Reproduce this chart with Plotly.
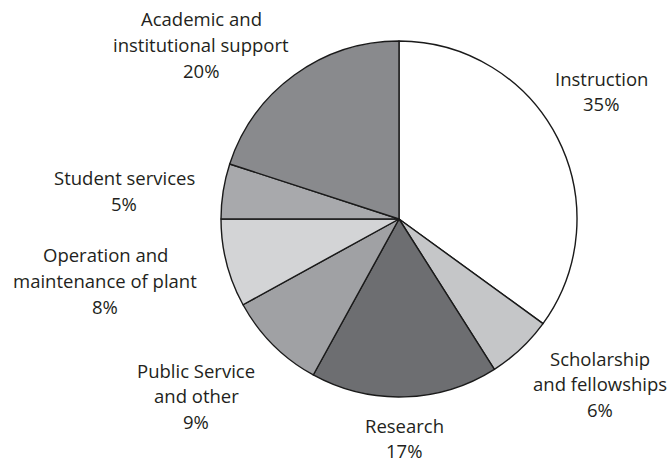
import plotly.graph_objects as go

# Spending categories, clockwise from 12 o'clock
categories = [
    "Instruction",
    "Scholarship and fellowships",
    "Research",
    "Public Service and other",
    "Operation and maintenance of plant",
    "Student services",
    "Academic and institutional support",
]
shares = [35, 6, 17, 9, 8, 5, 20]
fills = ["#ffffff", "#c5c6c8", "#6d6e71", "#a0a1a4", "#d3d4d6", "#a8a9ac", "#898a8d"]

# Label lines as set in the chart (last line carries the share)
label_lines = [
    ["Instruction"],
    ["Scholarship", "and fellowships"],
    ["Research"],
    ["Public Service", "and other"],
    ["Operation and", "maintenance of plant"],
    ["Student services"],
    ["Academic and", "institutional support"],
]
# Label anchor (pixel x of centre, pixel y of first line)
label_anchor = [
    (601, 78),
    (600, 358),
    (404, 425),
    (196, 370),
    (105, 255),
    (124, 178),
    (201, 19),
]

W, H = 672, 464
cx, cy, r = 399, 219, 178
line_gap = 25.5

fig = go.Figure(
    go.Pie(
        labels=categories,
        values=shares,
        sort=False,
        direction="clockwise",
        rotation=0,
        textinfo="none",
        hoverinfo="label+percent",
        marker=dict(colors=fills, line=dict(color="#1a1a1a", width=1.4)),
        domain=dict(
            x=[(cx - r) / W, (cx + r) / W],
            y=[(H - cy - r) / H, (H - cy + r) / H],
        ),
        showlegend=False,
    )
)

annotations = []
for lines, share, (ax, ay) in zip(label_lines, shares, label_anchor):
    for i, txt in enumerate(lines + [f"{share}%"]):
        annotations.append(
            dict(
                x=ax / W,
                y=1 - (ay + i * line_gap) / H,
                xref="paper",
                yref="paper",
                text=txt,
                showarrow=False,
                xanchor="center",
                yanchor="middle",
                borderpad=0,
                font=dict(family="Open Sans", size=18.5, color="#231f20"),
            )
        )

fig.update_layout(
    width=W,
    height=H,
    margin=dict(l=0, r=0, t=0, b=0),
    paper_bgcolor="white",
    plot_bgcolor="white",
    annotations=annotations,
)

fig.write_html("out.html")
